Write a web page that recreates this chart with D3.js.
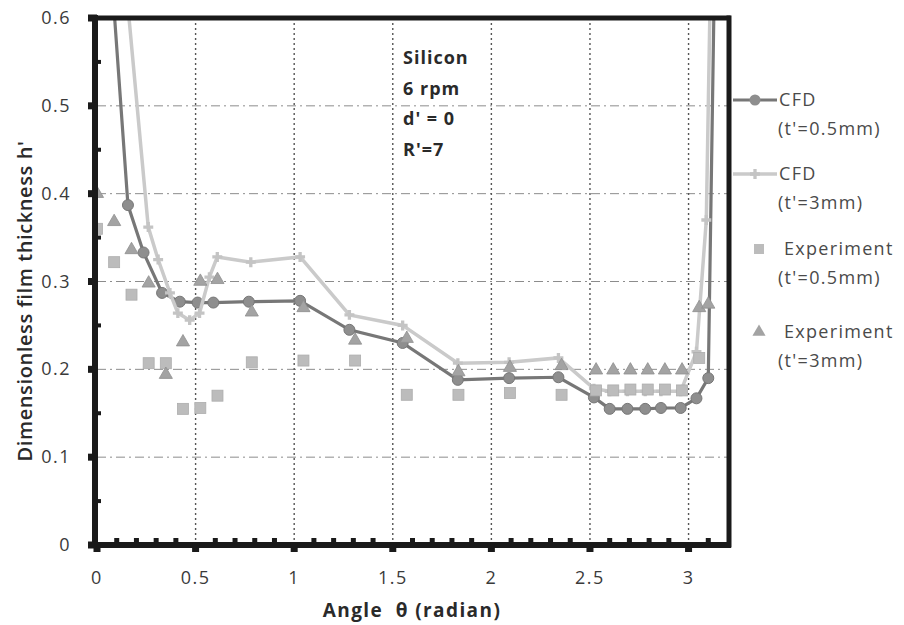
<!DOCTYPE html>
<html>
<head>
<meta charset="utf-8">
<script src="https://cdn.jsdelivr.net/npm/d3@7"></script>
<style>
  body { margin: 0; background: #fff; }
  svg { display: block; }
</style>
</head>
<body>
<svg id="chart"></svg>
<script>
// Film thickness vs angle — CFD curves and experiment points

const cfdThinX = [0.08, 0.157, 0.236, 0.33, 0.42, 0.51, 0.59, 0.77, 1.03, 1.28, 1.55, 1.83, 2.09, 2.34, 2.52, 2.6, 2.69, 2.78, 2.86, 2.96, 3.04, 3.1, 3.13];
const cfdThinY = [0.63, 0.387, 0.333, 0.287, 0.277, 0.276, 0.276, 0.277, 0.278, 0.245, 0.23, 0.188, 0.19, 0.191, 0.168, 0.155, 0.155, 0.155, 0.156, 0.156, 0.167, 0.19, 0.63];

const cfdThickX = [0.15, 0.26, 0.31, 0.37, 0.41, 0.47, 0.52, 0.57, 0.61, 0.78, 1.03, 1.28, 1.55, 1.83, 2.09, 2.34, 2.52, 2.6, 2.69, 2.78, 2.86, 2.96, 3.04, 3.09, 3.11];
const cfdThickY = [0.63, 0.362, 0.325, 0.287, 0.264, 0.256, 0.264, 0.305, 0.328, 0.322, 0.328, 0.262, 0.25, 0.207, 0.208, 0.213, 0.178, 0.175, 0.175, 0.175, 0.175, 0.175, 0.22, 0.37, 0.63];

const expThinX = [0, 0.087, 0.175, 0.262, 0.349, 0.436, 0.524, 0.611, 0.785, 1.047, 1.309, 1.571, 1.833, 2.094, 2.356, 2.531, 2.618, 2.705, 2.793, 2.88, 2.967, 3.054];
const expThinY = [0.36, 0.322, 0.285, 0.207, 0.207, 0.155, 0.156, 0.17, 0.208, 0.21, 0.21, 0.171, 0.171, 0.173, 0.171, 0.176, 0.176, 0.177, 0.177, 0.177, 0.176, 0.213];

const expThickX = [0, 0.087, 0.175, 0.262, 0.349, 0.436, 0.524, 0.611, 0.785, 1.047, 1.309, 1.571, 1.833, 2.094, 2.356, 2.531, 2.618, 2.705, 2.793, 2.88, 2.967, 3.054, 3.1];
const expThickY = [0.40, 0.368, 0.336, 0.298, 0.194, 0.231, 0.30, 0.302, 0.265, 0.27, 0.233, 0.235, 0.197, 0.202, 0.204, 0.199, 0.199, 0.199, 0.199, 0.199, 0.199, 0.27, 0.274];

const xTicks = [0, 0.5, 1, 1.5, 2, 2.5, 3];
const yTicks = [0, 0.1, 0.2, 0.3, 0.4, 0.5, 0.6];
const notes = ["Silicon", "6 rpm", "d' = 0", "R'=7"];
const legendItems = [
  { key: "cfdThin",  lines: ["CFD", "(t'=0.5mm)"] },
  { key: "cfdThick", lines: ["CFD", "(t'=3mm)"] },
  { key: "expThin",  lines: ["Experiment", "(t'=0.5mm)"] },
  { key: "expThick", lines: ["Experiment", "(t'=3mm)"] },
];

const W = 904, H = 625;
const FONT = "'Open Sans', 'DejaVu Sans', sans-serif";

const svg = d3.select("#chart").attr("width", W).attr("height", H);
svg.append("rect").attr("width", W).attr("height", H).attr("fill", "#fff");

const x = d3.scaleLinear().domain([0, 3.2]).range([97, 728]);
const y = d3.scaleLinear().domain([0, 0.6]).range([545, 18]);

const zip = (xs, ys) => xs.map((v, i) => [v, ys[i]]);

// clip to the plot frame
svg.append("clipPath").attr("id", "plotClip")
  .append("rect")
  .attr("x", x(0)).attr("y", y(0.6))
  .attr("width", x(3.2) - x(0)).attr("height", y(0) - y(0.6));

// Grid
const grid = svg.append("g");
grid.selectAll("line.h").data(yTicks.filter(d => d > 0 && d < 0.6)).join("line")
  .attr("x1", x(0)).attr("x2", x(3.2))
  .attr("y1", d => y(d)).attr("y2", d => y(d))
  .attr("stroke", "#8c8c8c").attr("stroke-width", 1)
  .attr("stroke-dasharray", "9,4,2,4");
grid.selectAll("line.v").data(xTicks.filter(d => d > 0)).join("line")
  .attr("x1", d => x(d)).attr("x2", d => x(d))
  .attr("y1", y(0.6)).attr("y2", y(0))
  .attr("stroke", "#555").attr("stroke-width", 1.4)
  .attr("stroke-dasharray", "2,3");

// Series
const plot = svg.append("g").attr("clip-path", "url(#plotClip)");
const line = d3.line().x(d => x(d[0])).y(d => y(d[1]));

plot.append("path").datum(zip(cfdThinX, cfdThinY))
  .attr("d", line).attr("fill", "none")
  .attr("stroke", "#777").attr("stroke-width", 3.2);
plot.selectAll("circle.cfd").data(zip(cfdThinX, cfdThinY)).join("circle")
  .attr("cx", d => x(d[0])).attr("cy", d => y(d[1])).attr("r", 5.5)
  .attr("fill", "#8e8e8e").attr("stroke", "#777").attr("stroke-width", 1);

const crossSym = d3.symbol().type(d3.symbolCross).size(55);
plot.append("path").datum(zip(cfdThickX, cfdThickY))
  .attr("d", line).attr("fill", "none")
  .attr("stroke", "#cacaca").attr("stroke-width", 3.5);
plot.selectAll("path.cfd3").data(zip(cfdThickX, cfdThickY)).join("path")
  .attr("transform", d => `translate(${x(d[0])},${y(d[1])})`)
  .attr("d", crossSym).attr("fill", "#c4c4c4");

plot.selectAll("rect.exp").data(zip(expThinX, expThinY)).join("rect")
  .attr("x", d => x(d[0]) - 5.5).attr("y", d => y(d[1]) - 5.5)
  .attr("width", 11).attr("height", 11)
  .attr("fill", "#bcbcbc").attr("stroke", "#adadad").attr("stroke-width", 0.8);

const triSym = d3.symbol().type(d3.symbolTriangle).size(75);
plot.selectAll("path.exp3").data(zip(expThickX, expThickY)).join("path")
  .attr("transform", d => `translate(${x(d[0])},${y(d[1])})`)
  .attr("d", triSym).attr("fill", "#a3a3a3").attr("stroke", "#8f8f8f").attr("stroke-width", 0.8);

// Frame
const frame = svg.append("g").attr("stroke", "#1a1a1a").attr("stroke-linecap", "square");
frame.append("line").attr("x1", x(0) - 2).attr("x2", x(3.2)).attr("y1", y(0.6)).attr("y2", y(0.6)).attr("stroke-width", 5);
frame.append("line").attr("x1", x(3.2) + 1).attr("x2", x(3.2) + 1).attr("y1", y(0.6)).attr("y2", y(0)).attr("stroke-width", 5);
frame.append("line").attr("x1", x(0) - 2).attr("x2", x(0) - 2).attr("y1", y(0.6)).attr("y2", y(0)).attr("stroke-width", 6);
frame.append("line").attr("x1", x(0) - 2).attr("x2", x(3.2)).attr("y1", y(0)).attr("y2", y(0)).attr("stroke-width", 6);

// Ticks
const ticks = svg.append("g").attr("fill", "#1a1a1a");
ticks.selectAll("rect.xmaj").data(xTicks).join("rect")
  .attr("x", d => x(d) - 3.5).attr("y", y(0) - 2).attr("width", 7).attr("height", 9);
ticks.selectAll("rect.xmin").data(d3.range(1, 32).map(i => i / 10).filter(v => Math.abs(v * 2 - Math.round(v * 2)) > 1e-6))
  .join("rect")
  .attr("x", d => x(d) - 2.5).attr("y", y(0) - 7).attr("width", 5).attr("height", 5);
ticks.selectAll("rect.ymaj").data(yTicks).join("rect")
  .attr("x", x(0) - 9).attr("y", d => y(d) - 3.5).attr("width", 9).attr("height", 7);
ticks.selectAll("rect.ymin").data(d3.range(0.05, 0.6, 0.1)).join("rect")
  .attr("x", x(0) + 1).attr("y", d => y(d) - 2).attr("width", 3).attr("height", 4);

// Tick labels
svg.append("g").selectAll("text").data(yTicks).join("text")
  .attr("x", 71).attr("y", d => y(d) + 6)
  .attr("text-anchor", "end")
  .attr("font-family", FONT).attr("font-size", 18).attr("fill", "#3a3a3a")
  .attr("letter-spacing", 1.5)
  .text(d => d === 0 ? "0" : d3.format(".1f")(d));
svg.append("g").selectAll("text").data(xTicks).join("text")
  .attr("x", d => x(d)).attr("y", 584)
  .attr("text-anchor", "middle")
  .attr("font-family", FONT).attr("font-size", 18).attr("fill", "#3a3a3a")
  .attr("letter-spacing", 1.5)
  .text(d => String(d));

// Axis titles
svg.append("text")
  .attr("transform", `translate(32,${301}) rotate(-90)`)
  .attr("text-anchor", "middle")
  .attr("font-family", FONT).attr("font-size", 20).attr("font-weight", 600).attr("fill", "#2a2a2a")
  .attr("letter-spacing", 0.6)
  .text("Dimensionless film thickness h'");
svg.append("text")
  .attr("x", 412).attr("y", 617)
  .attr("text-anchor", "middle")
  .attr("font-family", FONT).attr("font-size", 19).attr("font-weight", 700).attr("fill", "#2a2a2a")
  .attr("letter-spacing", 1.4)
  .attr("xml:space", "preserve")
  .text("Angle  θ (radian)");

// Annotation
svg.append("g").selectAll("text").data(notes).join("text")
  .attr("x", 403).attr("y", (d, i) => 64 + i * 30.5)
  .attr("font-family", FONT).attr("font-size", 18).attr("font-weight", 700).attr("fill", "#2a2a2a")
  .attr("letter-spacing", 1)
  .text(d => d);

// Legend
const legY = [100, 174, 249, 332];
const leg = svg.append("g");
legendItems.forEach((it, i) => {
  const cy = legY[i];
  const g = leg.append("g");
  if (it.key === "cfdThin") {
    g.append("line").attr("x1", 733).attr("x2", 777).attr("y1", cy).attr("y2", cy)
      .attr("stroke", "#777").attr("stroke-width", 3);
    g.append("circle").attr("cx", 755).attr("cy", cy).attr("r", 5.5).attr("fill", "#8e8e8e");
  } else if (it.key === "cfdThick") {
    g.append("line").attr("x1", 733).attr("x2", 777).attr("y1", cy).attr("y2", cy)
      .attr("stroke", "#cacaca").attr("stroke-width", 3.5);
    g.append("path").attr("transform", `translate(755,${cy})`).attr("d", crossSym).attr("fill", "#c4c4c4");
  } else if (it.key === "expThin") {
    g.append("rect").attr("x", 754).attr("y", cy - 5).attr("width", 10).attr("height", 10).attr("fill", "#bcbcbc");
  } else {
    g.append("path").attr("transform", `translate(759,${cy})`).attr("d", triSym).attr("fill", "#a3a3a3");
  }
  const tx = it.key.startsWith("cfd") ? 779 : 784;
  it.lines.forEach((t, j) => {
    g.append("text")
      .attr("x", j === 0 ? tx : 778).attr("y", cy + 6 + j * 29)
      .attr("font-family", FONT).attr("font-size", 18).attr("fill", "#4a4a4a")
      .attr("letter-spacing", 1.3)
      .text(t);
  });
});
</script>
</body>
</html>
